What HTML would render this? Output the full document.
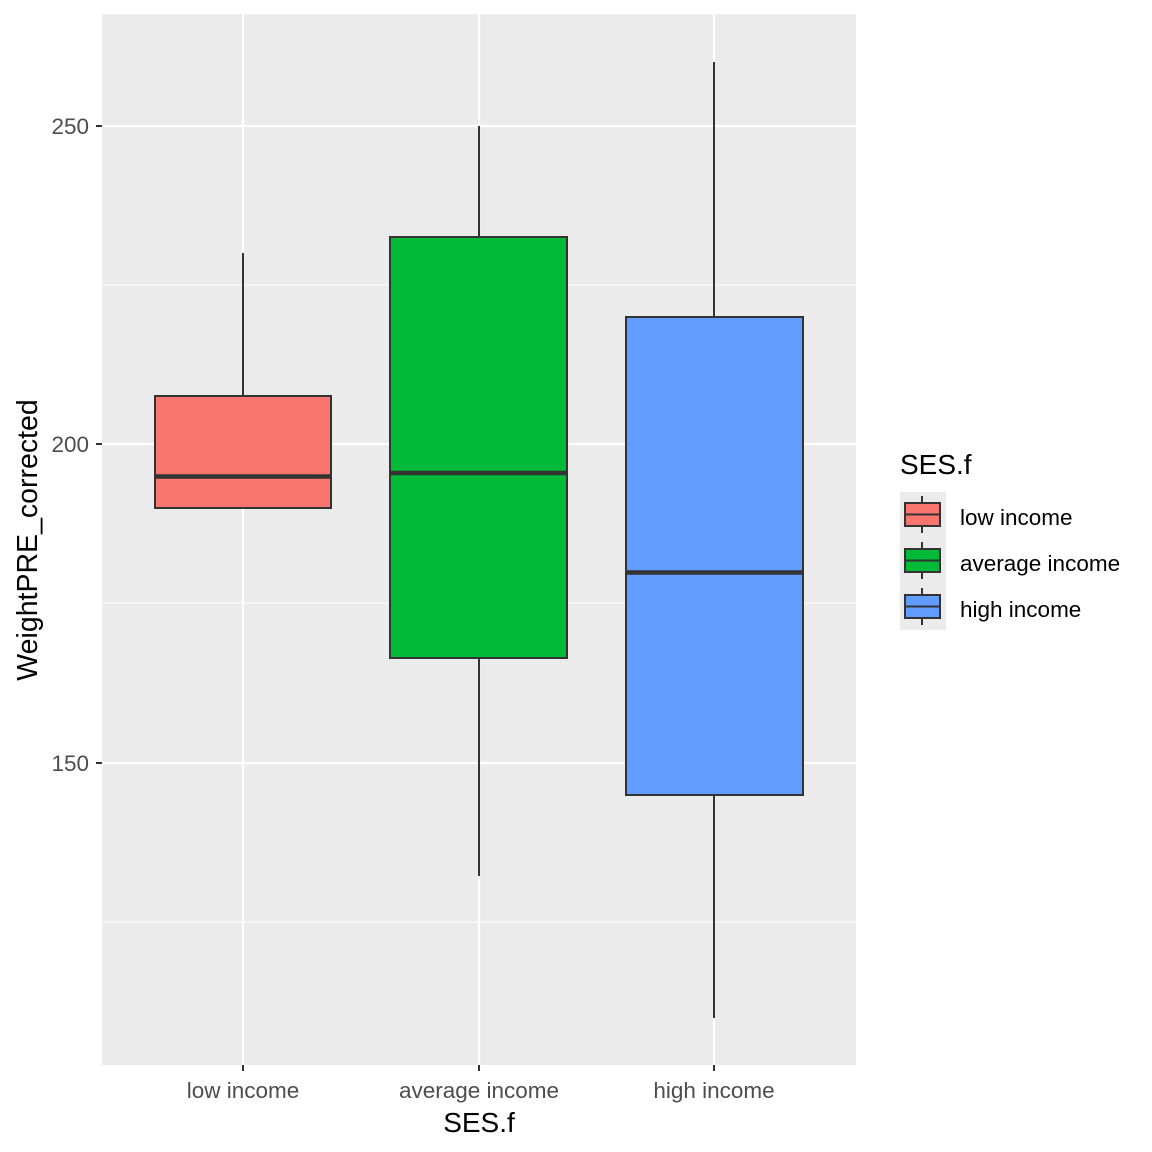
<!DOCTYPE html>
<html><head><meta charset="utf-8"><style>
html,body{margin:0;padding:0;background:#fff;}
svg{display:block;font-family:"Liberation Sans",Arial,sans-serif;}
</style></head><body>
<svg width="1152" height="1152" viewBox="0 0 1152 1152" xmlns="http://www.w3.org/2000/svg">
<rect x="0" y="0" width="1152" height="1152" fill="#fff"/>
<rect x="102" y="14" width="754" height="1051" fill="#ebebeb"/>
<g stroke="#fff" stroke-width="1.1">
<line x1="102" x2="856" y1="285" y2="285"/>
<line x1="102" x2="856" y1="603" y2="603"/>
<line x1="102" x2="856" y1="922" y2="922"/>
</g>
<g stroke="#fff" stroke-width="2.2">
<line x1="102" x2="856" y1="126" y2="126"/>
<line x1="102" x2="856" y1="444" y2="444"/>
<line x1="102" x2="856" y1="763" y2="763"/>
<line x1="243" x2="243" y1="14" y2="1065"/>
<line x1="479" x2="479" y1="14" y2="1065"/>
<line x1="714" x2="714" y1="14" y2="1065"/>
</g>
<g stroke="#333" stroke-width="2">
<line x1="243" x2="243" y1="253" y2="396"/>
<line x1="479" x2="479" y1="126" y2="237"/>
<line x1="479" x2="479" y1="658" y2="876"/>
<line x1="714" x2="714" y1="62" y2="317"/>
<line x1="714" x2="714" y1="795" y2="1018"/>
</g>
<rect x="155" y="396" width="176" height="112" fill="#f8766d" stroke="#333" stroke-width="2"/>
<line x1="155" x2="331" y1="476.5" y2="476.5" stroke="#333" stroke-width="4.5"/>
<rect x="390" y="237" width="177" height="421" fill="#00ba38" stroke="#333" stroke-width="2"/>
<line x1="390" x2="567" y1="473" y2="473" stroke="#333" stroke-width="4.5"/>
<rect x="626" y="317" width="177" height="478" fill="#619cff" stroke="#333" stroke-width="2"/>
<line x1="626" x2="803" y1="572.5" y2="572.5" stroke="#333" stroke-width="4.5"/>
<g stroke="#333" stroke-width="2">
<line x1="96" x2="102" y1="126" y2="126"/>
<line x1="96" x2="102" y1="444" y2="444"/>
<line x1="96" x2="102" y1="763" y2="763"/>
<line x1="243" x2="243" y1="1065" y2="1071"/>
<line x1="479" x2="479" y1="1065" y2="1071"/>
<line x1="714" x2="714" y1="1065" y2="1071"/>
</g>
<g fill="#4d4d4d" font-size="22.5" text-anchor="end">
<text x="89" y="134">250</text>
<text x="89" y="452">200</text>
<text x="89" y="771">150</text>
</g>
<g fill="#4d4d4d" font-size="22.5" text-anchor="middle">
<text x="243" y="1098">low income</text>
<text x="479" y="1098">average income</text>
<text x="714" y="1098">high income</text>
</g>
<text x="479" y="1132" font-size="28" text-anchor="middle" fill="#000">SES.f</text>
<text transform="translate(37,540) rotate(-90)" font-size="28.5" text-anchor="middle" fill="#000">WeightPRE_corrected</text>
<text x="900" y="474" font-size="28" fill="#000">SES.f</text>
<rect x="900" y="492" width="46" height="138" fill="#ebebeb"/>
<g stroke="#333" stroke-width="2">
<line x1="922" x2="922" y1="496" y2="533"/>
<line x1="922" x2="922" y1="542" y2="579"/>
<line x1="922" x2="922" y1="588" y2="625"/>
</g>
<rect x="905" y="503" width="35" height="23" fill="#f8766d" stroke="#333" stroke-width="2"/>
<line x1="905" x2="940" y1="514.5" y2="514.5" stroke="#333" stroke-width="2"/>
<rect x="905" y="549" width="35" height="23" fill="#00ba38" stroke="#333" stroke-width="2"/>
<line x1="905" x2="940" y1="560.5" y2="560.5" stroke="#333" stroke-width="2"/>
<rect x="905" y="595" width="35" height="23" fill="#619cff" stroke="#333" stroke-width="2"/>
<line x1="905" x2="940" y1="606.5" y2="606.5" stroke="#333" stroke-width="2"/>
<g fill="#000" font-size="22.5">
<text x="960" y="525">low income</text>
<text x="960" y="571">average income</text>
<text x="960" y="617">high income</text>
</g>
</svg>
</body></html>
